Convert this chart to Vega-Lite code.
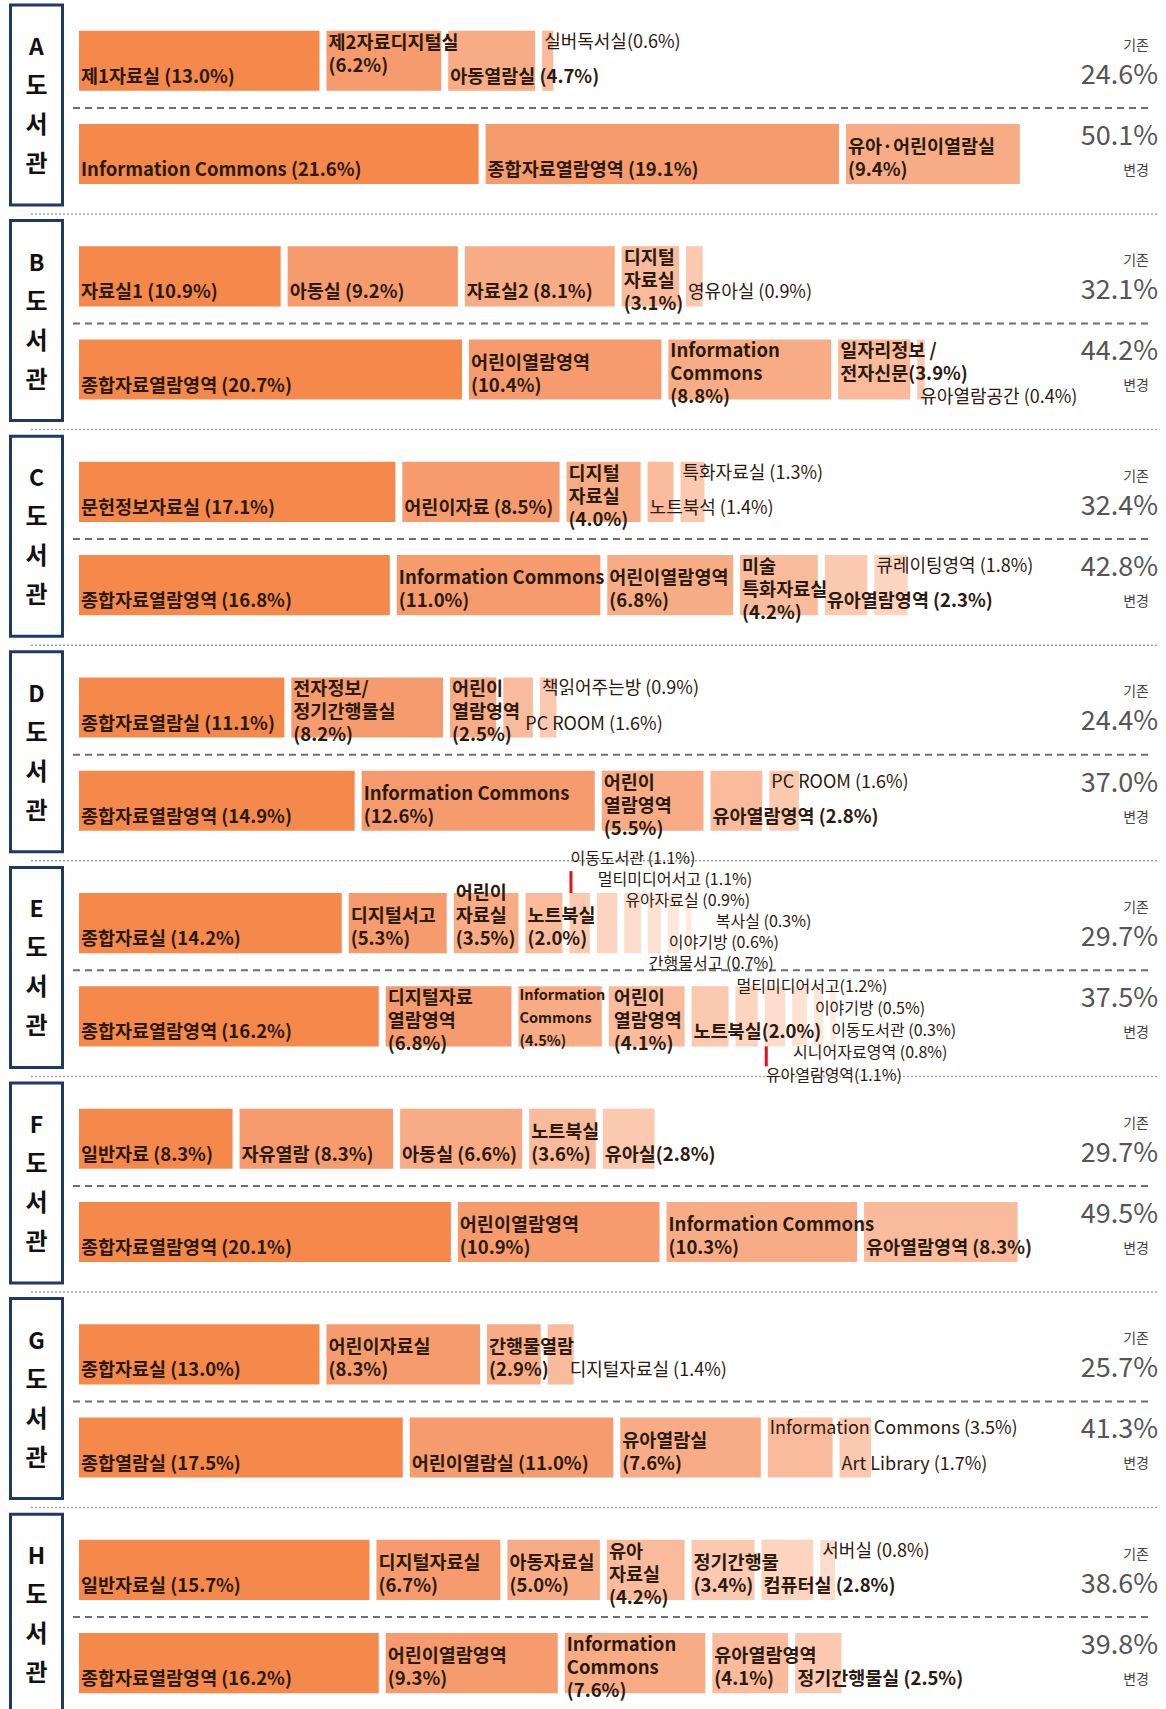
{
  "$schema": "https://vega.github.io/schema/vega-lite/v6.json",
  "padding": {"left": 8, "top": 3, "right": 0, "bottom": 0},
  "background": "white",
  "data": {"values": [
    {"lib": "A", "kind": "기존", "total": 0.246},
    {"lib": "A", "kind": "변경", "total": 0.501},
    {"lib": "A", "kind": "기존", "pct": 13.0, "label": ["제1자료실 (13.0%)"]},
    {"lib": "A", "kind": "기존", "pct": 6.2, "label": ["제2자료디지털실", "(6.2%)"]},
    {"lib": "A", "kind": "기존", "pct": 4.7, "label": ["아동열람실 (4.7%)"]},
    {"lib": "A", "kind": "기존", "pct": 0.6, "label": ["실버독서실(0.6%)"]},
    {"lib": "A", "kind": "변경", "pct": 21.6, "label": ["Information Commons (21.6%)"]},
    {"lib": "A", "kind": "변경", "pct": 19.1, "label": ["종합자료열람영역 (19.1%)"]},
    {"lib": "A", "kind": "변경", "pct": 9.4, "label": ["유아·어린이열람실", "(9.4%)"]},

    {"lib": "B", "kind": "기존", "total": 0.321},
    {"lib": "B", "kind": "변경", "total": 0.442},
    {"lib": "B", "kind": "기존", "pct": 10.9, "label": ["자료실1  (10.9%)"]},
    {"lib": "B", "kind": "기존", "pct": 9.2, "label": ["아동실 (9.2%)"]},
    {"lib": "B", "kind": "기존", "pct": 8.1, "label": ["자료실2 (8.1%)"]},
    {"lib": "B", "kind": "기존", "pct": 3.1, "label": ["디지털", "자료실", "(3.1%)"]},
    {"lib": "B", "kind": "기존", "pct": 0.9, "label": ["영유아실 (0.9%)"]},
    {"lib": "B", "kind": "변경", "pct": 20.7, "label": ["종합자료열람영역 (20.7%)"]},
    {"lib": "B", "kind": "변경", "pct": 10.4, "label": ["어린이열람영역", "(10.4%)"]},
    {"lib": "B", "kind": "변경", "pct": 8.8, "label": ["Information", "Commons", "(8.8%)"]},
    {"lib": "B", "kind": "변경", "pct": 3.9, "label": ["일자리정보 /", "전자신문(3.9%)"]},
    {"lib": "B", "kind": "변경", "pct": 0.4, "label": ["유아열람공간 (0.4%)"]},

    {"lib": "C", "kind": "기존", "total": 0.324},
    {"lib": "C", "kind": "변경", "total": 0.428},
    {"lib": "C", "kind": "기존", "pct": 17.1, "label": ["문헌정보자료실 (17.1%)"]},
    {"lib": "C", "kind": "기존", "pct": 8.5, "label": ["어린이자료 (8.5%)"]},
    {"lib": "C", "kind": "기존", "pct": 4.0, "label": ["디지털", "자료실", "(4.0%)"]},
    {"lib": "C", "kind": "기존", "pct": 1.4, "label": ["노트북석 (1.4%)"]},
    {"lib": "C", "kind": "기존", "pct": 1.3, "label": ["특화자료실 (1.3%)"]},
    {"lib": "C", "kind": "변경", "pct": 16.8, "label": ["종합자료열람영역 (16.8%)"]},
    {"lib": "C", "kind": "변경", "pct": 11.0, "label": ["Information Commons", "(11.0%)"]},
    {"lib": "C", "kind": "변경", "pct": 6.8, "label": ["어린이열람영역", "(6.8%)"]},
    {"lib": "C", "kind": "변경", "pct": 4.2, "label": ["미술", "특화자료실", "(4.2%)"]},
    {"lib": "C", "kind": "변경", "pct": 2.3, "label": ["유아열람영역 (2.3%)"]},
    {"lib": "C", "kind": "변경", "pct": 1.8, "label": ["큐레이팅영역 (1.8%)"]},

    {"lib": "D", "kind": "기존", "total": 0.244},
    {"lib": "D", "kind": "변경", "total": 0.370},
    {"lib": "D", "kind": "기존", "pct": 11.1, "label": ["종합자료열람실 (11.1%)"]},
    {"lib": "D", "kind": "기존", "pct": 8.2, "label": ["전자정보/", "정기간행물실", "(8.2%)"]},
    {"lib": "D", "kind": "기존", "pct": 2.5, "label": ["어린이", "열람영역", "(2.5%)"]},
    {"lib": "D", "kind": "기존", "pct": 1.6, "label": ["PC ROOM (1.6%)"]},
    {"lib": "D", "kind": "기존", "pct": 0.9, "label": ["책읽어주는방 (0.9%)"]},
    {"lib": "D", "kind": "변경", "pct": 14.9, "label": ["종합자료열람영역 (14.9%)"]},
    {"lib": "D", "kind": "변경", "pct": 12.6, "label": ["Information Commons", "(12.6%)"]},
    {"lib": "D", "kind": "변경", "pct": 5.5, "label": ["어린이", "열람영역", "(5.5%)"]},
    {"lib": "D", "kind": "변경", "pct": 2.8, "label": ["유아열람영역 (2.8%)"]},
    {"lib": "D", "kind": "변경", "pct": 1.6, "label": ["PC ROOM (1.6%)"]},

    {"lib": "E", "kind": "기존", "total": 0.297},
    {"lib": "E", "kind": "변경", "total": 0.375},
    {"lib": "E", "kind": "기존", "pct": 14.2, "label": ["종합자료실 (14.2%)"]},
    {"lib": "E", "kind": "기존", "pct": 5.3, "label": ["디지털서고", "(5.3%)"]},
    {"lib": "E", "kind": "기존", "pct": 3.5, "label": ["어린이", "자료실", "(3.5%)"]},
    {"lib": "E", "kind": "기존", "pct": 2.0, "label": ["노트북실", "(2.0%)"]},
    {"lib": "E", "kind": "기존", "pct": 1.1, "label": ["이동도서관 (1.1%)"]},
    {"lib": "E", "kind": "기존", "pct": 1.1, "label": ["멀티미디어서고 (1.1%)"]},
    {"lib": "E", "kind": "기존", "pct": 0.9, "label": ["유아자료실 (0.9%)"]},
    {"lib": "E", "kind": "기존", "pct": 0.7, "label": ["간행물서고 (0.7%)"]},
    {"lib": "E", "kind": "기존", "pct": 0.6, "label": ["이야기방 (0.6%)"]},
    {"lib": "E", "kind": "기존", "pct": 0.3, "label": ["복사실 (0.3%)"]},
    {"lib": "E", "kind": "변경", "pct": 16.2, "label": ["종합자료열람영역 (16.2%)"]},
    {"lib": "E", "kind": "변경", "pct": 6.8, "label": ["디지털자료", "열람영역", "(6.8%)"]},
    {"lib": "E", "kind": "변경", "pct": 4.5, "label": ["Information", "Commons", "(4.5%)"]},
    {"lib": "E", "kind": "변경", "pct": 4.1, "label": ["어린이", "열람영역", "(4.1%)"]},
    {"lib": "E", "kind": "변경", "pct": 2.0, "label": ["노트북실(2.0%)"]},
    {"lib": "E", "kind": "변경", "pct": 1.2, "label": ["멀티미디어서고(1.2%)"]},
    {"lib": "E", "kind": "변경", "pct": 1.1, "label": ["유아열람영역(1.1%)"]},
    {"lib": "E", "kind": "변경", "pct": 0.8, "label": ["시니어자료영역 (0.8%)"]},
    {"lib": "E", "kind": "변경", "pct": 0.5, "label": ["이야기방 (0.5%)"]},
    {"lib": "E", "kind": "변경", "pct": 0.3, "label": ["이동도서관 (0.3%)"]},

    {"lib": "F", "kind": "기존", "total": 0.297},
    {"lib": "F", "kind": "변경", "total": 0.495},
    {"lib": "F", "kind": "기존", "pct": 8.3, "label": ["일반자료 (8.3%)"]},
    {"lib": "F", "kind": "기존", "pct": 8.3, "label": ["자유열람 (8.3%)"]},
    {"lib": "F", "kind": "기존", "pct": 6.6, "label": ["아동실 (6.6%)"]},
    {"lib": "F", "kind": "기존", "pct": 3.6, "label": ["노트북실", "(3.6%)"]},
    {"lib": "F", "kind": "기존", "pct": 2.8, "label": ["유아실(2.8%)"]},
    {"lib": "F", "kind": "변경", "pct": 20.1, "label": ["종합자료열람영역 (20.1%)"]},
    {"lib": "F", "kind": "변경", "pct": 10.9, "label": ["어린이열람영역", "(10.9%)"]},
    {"lib": "F", "kind": "변경", "pct": 10.3, "label": ["Information Commons", "(10.3%)"]},
    {"lib": "F", "kind": "변경", "pct": 8.3, "label": ["유아열람영역 (8.3%)"]},

    {"lib": "G", "kind": "기존", "total": 0.257},
    {"lib": "G", "kind": "변경", "total": 0.413},
    {"lib": "G", "kind": "기존", "pct": 13.0, "label": ["종합자료실 (13.0%)"]},
    {"lib": "G", "kind": "기존", "pct": 8.3, "label": ["어린이자료실", "(8.3%)"]},
    {"lib": "G", "kind": "기존", "pct": 2.9, "label": ["간행물열람", "(2.9%)"]},
    {"lib": "G", "kind": "기존", "pct": 1.4, "label": ["디지털자료실 (1.4%)"]},
    {"lib": "G", "kind": "변경", "pct": 17.5, "label": ["종합열람실 (17.5%)"]},
    {"lib": "G", "kind": "변경", "pct": 11.0, "label": ["어린이열람실 (11.0%)"]},
    {"lib": "G", "kind": "변경", "pct": 7.6, "label": ["유아열람실", "(7.6%)"]},
    {"lib": "G", "kind": "변경", "pct": 3.5, "label": ["Information Commons (3.5%)"]},
    {"lib": "G", "kind": "변경", "pct": 1.7, "label": ["Art Library (1.7%)"]},

    {"lib": "H", "kind": "기존", "total": 0.386},
    {"lib": "H", "kind": "변경", "total": 0.398},
    {"lib": "H", "kind": "기존", "pct": 15.7, "label": ["일반자료실 (15.7%)"]},
    {"lib": "H", "kind": "기존", "pct": 6.7, "label": ["디지털자료실", "(6.7%)"]},
    {"lib": "H", "kind": "기존", "pct": 5.0, "label": ["아동자료실", "(5.0%)"]},
    {"lib": "H", "kind": "기존", "pct": 4.2, "label": ["유아", "자료실", "(4.2%)"]},
    {"lib": "H", "kind": "기존", "pct": 3.4, "label": ["정기간행물", "(3.4%)"]},
    {"lib": "H", "kind": "기존", "pct": 2.8, "label": ["컴퓨터실 (2.8%)"]},
    {"lib": "H", "kind": "기존", "pct": 0.8, "label": ["서버실 (0.8%)"]},
    {"lib": "H", "kind": "변경", "pct": 16.2, "label": ["종합자료열람영역 (16.2%)"]},
    {"lib": "H", "kind": "변경", "pct": 9.3, "label": ["어린이열람영역", "(9.3%)"]},
    {"lib": "H", "kind": "변경", "pct": 7.6, "label": ["Information", "Commons", "(7.6%)"]},
    {"lib": "H", "kind": "변경", "pct": 4.1, "label": ["유아열람영역", "(4.1%)"]},
    {"lib": "H", "kind": "변경", "pct": 2.5, "label": ["정기간행물실 (2.5%)"]}
  ]},
  "facet": {"row": {"field": "lib", "type": "nominal", "title": null, "header": {"labels": false, "title": null}}},
  "spacing": 15.6,
  "bounds": "flush",
  "spec": {
    "width": 1150,
    "height": 200,
    "layer": [
      {
        "transform": [{"filter": "isValid(datum.total) && datum.kind == '기존'"}],
        "mark": {"type": "rect", "fill": "#ffffff", "stroke": "#1f3864", "strokeWidth": 3},
        "encoding": {
          "x": {"datum": -3.703, "type": "quantitative", "scale": {"domain": [-3.784, 58.378], "nice": false, "zero": false}, "axis": null},
          "x2": {"datum": -0.892}
        }
      },
      {
        "transform": [{"filter": "isValid(datum.total) && datum.kind == '기존'"}],
        "mark": {"type": "text", "align": "center", "baseline": "middle", "dy": -57, "fontSize": 23, "fontWeight": "bold", "color": "#111111"},
        "encoding": {
          "x": {"datum": -2.298, "type": "quantitative", "axis": null},
          "text": {"field": "lib", "type": "nominal"}
        }
      },
      {
        "transform": [{"filter": "isValid(datum.total) && datum.kind == '기존'"}],
        "mark": {"type": "text", "align": "center", "baseline": "middle", "dy": -18, "lineHeight": 39, "fontSize": 24, "fontWeight": "bold", "color": "#111111"},
        "encoding": {
          "x": {"datum": -2.298, "type": "quantitative", "axis": null},
          "text": {"value": ["도", "서", "관"]}
        }
      },
      {
        "transform": [{"filter": "isValid(datum.total) && datum.kind == '변경'"}],
        "mark": {"type": "rule", "stroke": "#6e6e6e", "strokeWidth": 2, "strokeDash": [7, 5], "yOffset": -16},
        "encoding": {
          "x": {"datum": -0.324, "type": "quantitative", "axis": null},
          "x2": {"datum": 57.946},
          "y": {"field": "kind", "type": "nominal", "bandPosition": 0, "scale": {"type": "band", "domain": ["기존", "변경"], "paddingInner": 0.355, "paddingOuter": 0.25, "align": 0.55}, "axis": null}
        }
      },
      {
        "transform": [{"filter": "isValid(datum.total) && datum.kind == '변경' && datum.lib != 'H'"}],
        "mark": {"type": "rule", "stroke": "#a0a0a0", "strokeWidth": 1.5, "strokeDash": [2, 2], "yOffset": 30},
        "encoding": {
          "x": {"datum": -2.595, "type": "quantitative", "axis": null},
          "x2": {"datum": 58.324},
          "y": {"field": "kind", "type": "nominal", "bandPosition": 1, "axis": null}
        }
      },
      {
        "transform": [{"filter": "isValid(datum.total) && datum.kind == '기존'"}],
        "mark": {"type": "text", "align": "center", "baseline": "middle", "dy": 15, "fontSize": 14, "color": "#444444"},
        "encoding": {
          "x": {"datum": 57.135, "type": "quantitative", "axis": null},
          "y": {"field": "kind", "type": "nominal", "bandPosition": 0, "axis": null},
          "text": {"field": "kind", "type": "nominal"}
        }
      },
      {
        "transform": [{"filter": "isValid(datum.total) && datum.kind == '변경'"}],
        "mark": {"type": "text", "align": "center", "baseline": "middle", "dy": 47, "fontSize": 14, "color": "#444444"},
        "encoding": {
          "x": {"datum": 57.135, "type": "quantitative", "axis": null},
          "y": {"field": "kind", "type": "nominal", "bandPosition": 0, "axis": null},
          "text": {"field": "kind", "type": "nominal"}
        }
      },
      {
        "transform": [{"filter": "isValid(datum.total) && datum.kind == '기존'"}],
        "mark": {"type": "text", "align": "right", "baseline": "middle", "dy": 45, "fontSize": 27, "color": "#555555"},
        "encoding": {
          "x": {"datum": 58.324, "type": "quantitative", "axis": null},
          "y": {"field": "kind", "type": "nominal", "bandPosition": 0, "axis": null},
          "text": {"field": "total", "type": "quantitative", "format": ".1%"}
        }
      },
      {
        "transform": [{"filter": "isValid(datum.total) && datum.kind == '변경'"}],
        "mark": {"type": "text", "align": "right", "baseline": "middle", "dy": 13, "fontSize": 27, "color": "#555555"},
        "encoding": {
          "x": {"datum": 58.324, "type": "quantitative", "axis": null},
          "y": {"field": "kind", "type": "nominal", "bandPosition": 0, "axis": null},
          "text": {"field": "total", "type": "quantitative", "format": ".1%"}
        }
      },
      {
        "transform": [
          {"filter": "isValid(datum.pct)"},
          {"window": [{"op": "row_number", "as": "rank"}], "groupby": ["lib", "kind"], "sort": [{"field": "pct", "order": "descending"}]},
          {"impute": "pct", "key": "rank", "keyvals": [1.5, 2.5, 3.5, 4.5, 5.5, 6.5, 7.5, 8.5, 9.5], "groupby": ["lib", "kind"], "value": 0.378},
          {"stack": "pct", "groupby": ["lib", "kind"], "sort": [{"field": "rank", "order": "ascending"}], "as": ["s0", "s1"]},
          {"filter": "isValid(datum.label)"}
        ],
        "layer": [
          {
            "mark": {"type": "bar"},
            "encoding": {
              "x": {"field": "s0", "type": "quantitative", "axis": null},
              "x2": {"field": "s1"},
              "y": {"field": "kind", "type": "nominal", "axis": null},
              "color": {"field": "rank", "type": "ordinal", "legend": null,
                "scale": {"domain": [1, 2, 3, 4, 5, 6, 7, 8, 9, 10], "range": ["#F5884B", "#F69B6D", "#F8AC86", "#F9BB9C", "#FBC9AF", "#FCD4BF", "#FCDCCB", "#FDE2D4", "#FDE6DA", "#FEEAE0"]}}
            }
          },
          {
            "transform": [{"filter": "indexof(['A기존2','A기존4','B기존4','B변경3','B변경4','C기존3','C기존5','C변경4','C변경6','D기존2','D기존3','D기존5','D변경3','D변경5','E변경2','E변경3','E변경4','G변경4','H기존4','H기존7','H변경3'], datum.lib + datum.kind + datum.rank) < 0 && !(datum.lib == 'E' && ((datum.kind == '기존' && datum.rank >= 5) || (datum.kind == '변경' && datum.rank >= 6))) && datum.pct >= 1.9 && length(datum.label) == 1"}],
            "mark": {"type": "text", "baseline": "bottom", "dy": -4, "dx": 2, "fontWeight": "bold"},
            "encoding": {"x": {"field": "s0", "type": "quantitative", "axis": null}, "y": {"field": "kind", "type": "nominal", "bandPosition": 1, "axis": null}, "text": {"field": "label", "type": "nominal"}}
          },
          {
            "transform": [{"filter": "indexof(['A기존2','A기존4','B기존4','B변경3','B변경4','C기존3','C기존5','C변경4','C변경6','D기존2','D기존3','D기존5','D변경3','D변경5','E변경2','E변경3','E변경4','G변경4','H기존4','H기존7','H변경3'], datum.lib + datum.kind + datum.rank) < 0 && !(datum.lib == 'E' && ((datum.kind == '기존' && datum.rank >= 5) || (datum.kind == '변경' && datum.rank >= 6))) && datum.pct >= 1.9 && length(datum.label) == 2"}],
            "mark": {"type": "text", "baseline": "bottom", "dy": -27, "dx": 2, "fontWeight": "bold"},
            "encoding": {"x": {"field": "s0", "type": "quantitative", "axis": null}, "y": {"field": "kind", "type": "nominal", "bandPosition": 1, "axis": null}, "text": {"field": "label", "type": "nominal"}}
          },
          {
            "transform": [{"filter": "indexof(['A기존2','A기존4','B기존4','B변경3','B변경4','C기존3','C기존5','C변경4','C변경6','D기존2','D기존3','D기존5','D변경3','D변경5','E변경2','E변경3','E변경4','G변경4','H기존4','H기존7','H변경3'], datum.lib + datum.kind + datum.rank) < 0 && !(datum.lib == 'E' && ((datum.kind == '기존' && datum.rank >= 5) || (datum.kind == '변경' && datum.rank >= 6))) && datum.pct >= 1.9 && length(datum.label) == 3"}],
            "mark": {"type": "text", "baseline": "bottom", "dy": -50, "dx": 2, "fontWeight": "bold"},
            "encoding": {"x": {"field": "s0", "type": "quantitative", "axis": null}, "y": {"field": "kind", "type": "nominal", "bandPosition": 1, "axis": null}, "text": {"field": "label", "type": "nominal"}}
          },
          {
            "transform": [{"filter": "indexof(['A기존2','A기존4','B기존4','B변경3','B변경4','C기존3','C기존5','C변경4','C변경6','D기존2','D기존3','D기존5','D변경3','D변경5','E변경2','E변경3','E변경4','G변경4','H기존4','H기존7','H변경3'], datum.lib + datum.kind + datum.rank) < 0 && !(datum.lib == 'E' && ((datum.kind == '기존' && datum.rank >= 5) || (datum.kind == '변경' && datum.rank >= 6))) && datum.pct < 1.9 && indexof(['D기존4','G기존4','B변경5'], datum.lib + datum.kind + datum.rank) < 0"}],
            "mark": {"type": "text", "baseline": "bottom", "dy": -4, "dx": 2, "fontWeight": "normal", "fontSize": 18},
            "encoding": {"x": {"field": "s0", "type": "quantitative", "axis": null}, "y": {"field": "kind", "type": "nominal", "bandPosition": 1, "axis": null}, "text": {"field": "label", "type": "nominal"}}
          },
          {
            "transform": [{"filter": "indexof(['D기존4','G기존4'], datum.lib + datum.kind + datum.rank) >= 0"}],
            "mark": {"type": "text", "baseline": "bottom", "dy": -4, "dx": 22, "fontWeight": "normal", "fontSize": 18},
            "encoding": {"x": {"field": "s0", "type": "quantitative", "axis": null}, "y": {"field": "kind", "type": "nominal", "bandPosition": 1, "axis": null}, "text": {"field": "label", "type": "nominal"}}
          },
          {
            "transform": [{"filter": "datum.lib + datum.kind + datum.rank == 'B변경5'"}],
            "mark": {"type": "text", "baseline": "middle", "dy": -2, "dx": 3, "fontWeight": "normal", "fontSize": 18},
            "encoding": {"x": {"field": "s0", "type": "quantitative", "axis": null}, "y": {"field": "kind", "type": "nominal", "bandPosition": 1, "axis": null}, "text": {"field": "label", "type": "nominal"}}
          },
          {
            "transform": [{"filter": "indexof(['A기존2','B기존4','B변경3','B변경4','C기존3','C변경4','D기존2','D기존3','D변경3','E변경2','H기존4','H변경3'], datum.lib + datum.kind + datum.rank) >= 0"}],
            "mark": {"type": "text", "baseline": "top", "dy": 3, "dx": 2, "fontWeight": "bold"},
            "encoding": {"x": {"field": "s0", "type": "quantitative", "axis": null}, "y": {"field": "kind", "type": "nominal", "bandPosition": 0, "axis": null}, "text": {"field": "label", "type": "nominal"}}
          },
          {
            "transform": [{"filter": "datum.lib + datum.kind + datum.rank == 'E변경4'"}],
            "mark": {"type": "text", "baseline": "top", "dy": 3, "dx": 5, "fontWeight": "bold"},
            "encoding": {"x": {"field": "s0", "type": "quantitative", "axis": null}, "y": {"field": "kind", "type": "nominal", "bandPosition": 0, "axis": null}, "text": {"field": "label", "type": "nominal"}}
          },
          {
            "transform": [{"filter": "datum.lib + datum.kind + datum.rank == 'E변경3'"}],
            "mark": {"type": "text", "baseline": "top", "dy": 3, "dx": 1, "fontWeight": "bold", "fontSize": 14.5},
            "encoding": {"x": {"field": "s0", "type": "quantitative", "axis": null}, "y": {"field": "kind", "type": "nominal", "bandPosition": 0, "axis": null}, "text": {"field": "label", "type": "nominal"}}
          },
          {
            "transform": [{"filter": "indexof(['A기존4','C기존5','C변경6','D기존5','D변경5','G변경4','H기존7'], datum.lib + datum.kind + datum.rank) >= 0"}],
            "mark": {"type": "text", "baseline": "top", "dy": 3, "dx": 2, "fontWeight": "normal", "fontSize": 18},
            "encoding": {"x": {"field": "s0", "type": "quantitative", "axis": null}, "y": {"field": "kind", "type": "nominal", "bandPosition": 0, "axis": null}, "text": {"field": "label", "type": "nominal"}}
          },
          {
            "transform": [{"filter": "datum.lib + datum.kind + datum.rank == 'E기존5'"}],
            "mark": {"type": "text", "baseline": "middle", "dy": -34, "dx": 1, "fontSize": 16},
            "encoding": {"x": {"field": "s0", "type": "quantitative", "axis": null}, "y": {"field": "kind", "type": "nominal", "bandPosition": 0, "axis": null}, "text": {"field": "label", "type": "nominal"}}
          },
          {
            "transform": [{"filter": "datum.lib + datum.kind + datum.rank == 'E기존6'"}],
            "mark": {"type": "text", "baseline": "middle", "dy": -13, "dx": 1, "fontSize": 16},
            "encoding": {"x": {"field": "s0", "type": "quantitative", "axis": null}, "y": {"field": "kind", "type": "nominal", "bandPosition": 0, "axis": null}, "text": {"field": "label", "type": "nominal"}}
          },
          {
            "transform": [{"filter": "datum.lib + datum.kind + datum.rank == 'E변경6'"}],
            "mark": {"type": "text", "baseline": "middle", "dy": 1, "dx": 1, "fontSize": 16},
            "encoding": {"x": {"field": "s0", "type": "quantitative", "axis": null}, "y": {"field": "kind", "type": "nominal", "bandPosition": 0, "axis": null}, "text": {"field": "label", "type": "nominal"}}
          },
          {
            "transform": [{"filter": "datum.lib + datum.kind + datum.rank == 'E기존7'"}],
            "mark": {"type": "text", "baseline": "middle", "dy": 8, "dx": 1, "fontSize": 16},
            "encoding": {"x": {"field": "s0", "type": "quantitative", "axis": null}, "y": {"field": "kind", "type": "nominal", "bandPosition": 0, "axis": null}, "text": {"field": "label", "type": "nominal"}}
          },
          {
            "transform": [{"filter": "datum.lib + datum.kind + datum.rank == 'E변경9'"}],
            "mark": {"type": "text", "baseline": "middle", "dy": 23, "dx": 1, "fontSize": 16},
            "encoding": {"x": {"field": "s0", "type": "quantitative", "axis": null}, "y": {"field": "kind", "type": "nominal", "bandPosition": 0, "axis": null}, "text": {"field": "label", "type": "nominal"}}
          },
          {
            "transform": [{"filter": "datum.lib + datum.kind + datum.rank == 'E기존10'"}],
            "mark": {"type": "text", "baseline": "middle", "dy": 29, "dx": 30, "fontSize": 16},
            "encoding": {"x": {"field": "s0", "type": "quantitative", "axis": null}, "y": {"field": "kind", "type": "nominal", "bandPosition": 0, "axis": null}, "text": {"field": "label", "type": "nominal"}}
          },
          {
            "transform": [{"filter": "datum.lib + datum.kind + datum.rank == 'E변경10'"}],
            "mark": {"type": "text", "baseline": "middle", "dy": 45, "dx": 1, "fontSize": 16},
            "encoding": {"x": {"field": "s0", "type": "quantitative", "axis": null}, "y": {"field": "kind", "type": "nominal", "bandPosition": 0, "axis": null}, "text": {"field": "label", "type": "nominal"}}
          },
          {
            "transform": [{"filter": "datum.lib + datum.kind + datum.rank == 'E기존9'"}],
            "mark": {"type": "text", "baseline": "middle", "dy": 50, "dx": 1, "fontSize": 16},
            "encoding": {"x": {"field": "s0", "type": "quantitative", "axis": null}, "y": {"field": "kind", "type": "nominal", "bandPosition": 0, "axis": null}, "text": {"field": "label", "type": "nominal"}}
          },
          {
            "transform": [{"filter": "datum.lib + datum.kind + datum.rank == 'E변경8'"}],
            "mark": {"type": "text", "baseline": "middle", "dy": 67, "dx": 1, "fontSize": 16},
            "encoding": {"x": {"field": "s0", "type": "quantitative", "axis": null}, "y": {"field": "kind", "type": "nominal", "bandPosition": 0, "axis": null}, "text": {"field": "label", "type": "nominal"}}
          },
          {
            "transform": [{"filter": "datum.lib + datum.kind + datum.rank == 'E기존8'"}],
            "mark": {"type": "text", "baseline": "middle", "dy": 71, "dx": 1, "fontSize": 16},
            "encoding": {"x": {"field": "s0", "type": "quantitative", "axis": null}, "y": {"field": "kind", "type": "nominal", "bandPosition": 0, "axis": null}, "text": {"field": "label", "type": "nominal"}}
          },
          {
            "transform": [{"filter": "datum.lib + datum.kind + datum.rank == 'E변경7'"}],
            "mark": {"type": "text", "baseline": "middle", "dy": 90, "dx": 1, "fontSize": 16},
            "encoding": {"x": {"field": "s0", "type": "quantitative", "axis": null}, "y": {"field": "kind", "type": "nominal", "bandPosition": 0, "axis": null}, "text": {"field": "label", "type": "nominal"}}
          },
          {
            "transform": [{"filter": "datum.lib == 'E' && datum.kind == '기존' && datum.rank == 5"}],
            "mark": {"type": "rect", "color": "#e3101b", "height": 22, "yOffset": -41, "x2Offset": 3},
            "encoding": {
              "x": {"field": "s0", "type": "quantitative", "axis": null},
              "x2": {"field": "s0"},
              "y": {"field": "kind", "type": "nominal", "axis": null}
            }
          },
          {
            "transform": [{"filter": "datum.lib == 'E' && datum.kind == '변경' && datum.rank == 7"}],
            "mark": {"type": "rect", "color": "#e3101b", "height": 20, "yOffset": 40, "x2Offset": 3},
            "encoding": {
              "x": {"field": "s0", "type": "quantitative", "axis": null},
              "x2": {"field": "s0"},
              "y": {"field": "kind", "type": "nominal", "axis": null}
            }
          }
        ]
      }
    ]
  },
  "config": {
    "view": {"stroke": null},
    "text": {"font": "Noto Sans CJK KR", "fontSize": 18.5, "color": "#2a1a10", "align": "left", "lineHeight": 23}
  }
}
